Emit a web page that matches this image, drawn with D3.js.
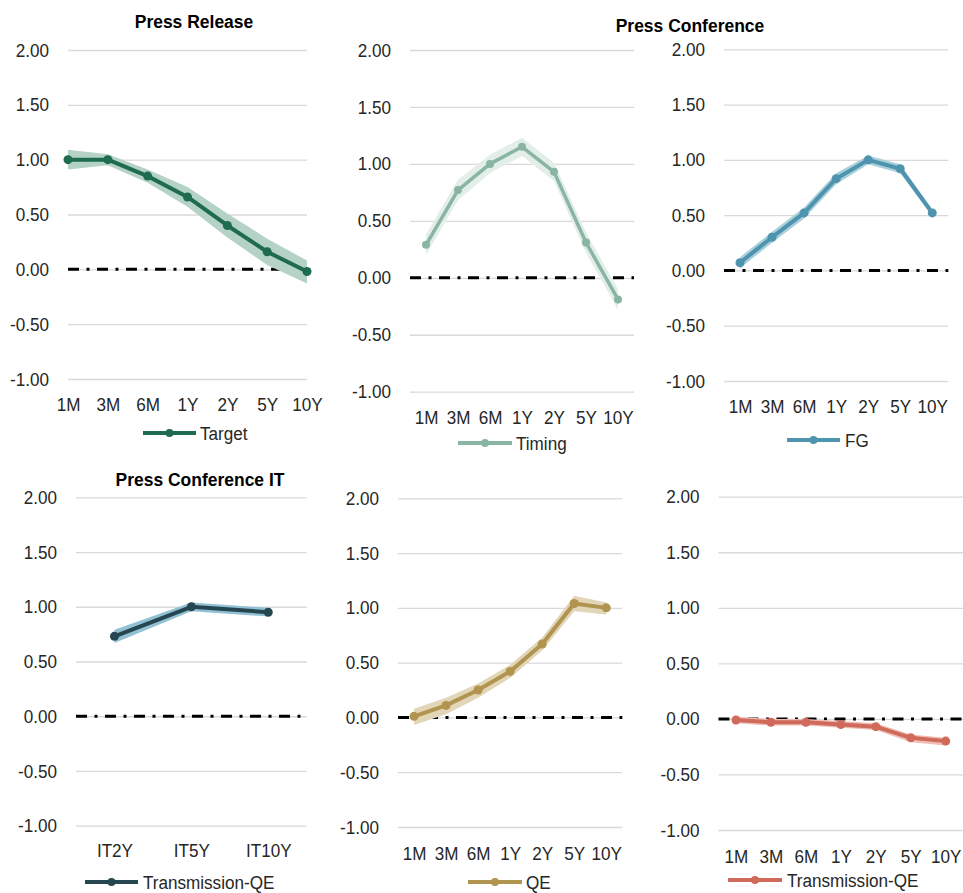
<!DOCTYPE html>
<html>
<head>
<meta charset="utf-8">
<script src="https://cdn.jsdelivr.net/npm/d3@7"></script>
<style>
  html, body { margin: 0; padding: 0; background: #ffffff; }
  svg { display: block; }
  text { font-family: "Liberation Sans Narrow", "Arial Narrow", "Liberation Sans", Arial, sans-serif; }
  /* condensed lettering: squeeze glyphs horizontally around their anchor */
  text.ylab, text.xlab, text.title, text.leg { transform-box: fill-box; }
  text.ylab  { transform-origin: 100% 50%; transform: scaleX(0.9); }
  text.xlab  { transform-origin: 50% 50%;  transform: scaleX(0.9); }
  text.title { transform-origin: 50% 50%;  transform: scaleX(0.92); }
  text.leg   { transform-origin: 0% 50%;   transform: scaleX(0.9); }
</style>
</head>
<body>
<svg id="chart" width="963" height="893"></svg>
<script>
// Yield curve response by tenor
const tenors = ["1M", "3M", "6M", "1Y", "2Y", "5Y", "10Y"];
const itTenors = ["IT2Y", "IT5Y", "IT10Y"];
const yTicks = [2.0, 1.5, 1.0, 0.5, 0.0, -0.5, -1.0];

// Press release: target surprise
const targetMid = [1.00, 1.00, 0.85, 0.66, 0.40, 0.16, -0.02];
const targetHi  = [1.09, 1.05, 0.91, 0.75, 0.51, 0.28, 0.08];
const targetLo  = [0.91, 0.95, 0.79, 0.57, 0.29, 0.04, -0.13];

// Press conference: timing
const timingMid = [0.29, 0.77, 1.00, 1.15, 0.93, 0.31, -0.19];
const timingHi  = [0.38, 0.86, 1.08, 1.23, 1.01, 0.40, -0.10];
const timingLo  = [0.20, 0.68, 0.92, 1.07, 0.85, 0.22, -0.28];

// Press conference: forward guidance
const fgMid = [0.07, 0.30, 0.52, 0.83, 1.00, 0.92, 0.52];
const fgHi  = [0.12, 0.35, 0.57, 0.88, 1.04, 0.96, 0.55];
const fgLo  = [0.02, 0.25, 0.47, 0.78, 0.96, 0.88, 0.49];

// Press conference IT: transmission-QE
const itMid = [0.73, 1.00, 0.95];
const itHi  = [0.79, 1.04, 0.99];
const itLo  = [0.67, 0.96, 0.91];

// QE
const qeMid = [0.01, 0.11, 0.25, 0.42, 0.67, 1.04, 1.00];
const qeHi  = [0.08, 0.18, 0.31, 0.48, 0.73, 1.11, 1.05];
const qeLo  = [-0.07, 0.03, 0.18, 0.36, 0.61, 0.97, 0.94];

// Transmission-QE
const tqeMid = [-0.01, -0.03, -0.03, -0.05, -0.07, -0.17, -0.20];
const tqeHi  = [0.02, 0.00, 0.00, -0.02, -0.04, -0.14, -0.17];
const tqeLo  = [-0.04, -0.06, -0.06, -0.08, -0.10, -0.21, -0.24];

const panels = [
  { cats: tenors, mid: targetMid, hi: targetHi, lo: targetLo, name: "Target",
    line: "#1e6b4f", band: "#b4d2c5", lineW: 4, r: 4.5, pad: 0,
    x0: 68, x1: 307, yTop: 50, yBot: 379, xLab: 19, leg: { y: 433, x0: 143, x1: 196, tx: 200 } },
  { cats: tenors, mid: timingMid, hi: timingHi, lo: timingLo, name: "Timing",
    line: "#8ab5a3", band: "#e3eee9", lineW: 3.5, r: 4, pad: 0.5,
    x0: 410, x1: 634, yTop: 50, yBot: 391.7, xLab: 19, leg: { y: 443, x0: 458, x1: 512, tx: 516 } },
  { cats: tenors, mid: fgMid, hi: fgHi, lo: fgLo, name: "FG",
    line: "#4f94ae", band: "#a9cfdc", lineW: 4, r: 4.5, pad: 0.5,
    x0: 724, x1: 948.3, yTop: 49.3, yBot: 381, xLab: 19, leg: { y: 440, x0: 787, x1: 840, tx: 845 } },
  { cats: itTenors, mid: itMid, hi: itHi, lo: itLo, name: "Transmission-QE",
    line: "#264651", band: "#92c1d3", lineW: 4, r: 4.5, pad: 0.5,
    x0: 76, x1: 306.7, yTop: 497.3, yBot: 825.7, xLab: 18, leg: { y: 882, x0: 85, x1: 138, tx: 143 } },
  { cats: tenors, mid: qeMid, hi: qeHi, lo: qeLo, name: "QE",
    line: "#b1944f", band: "#e2d6b8", lineW: 4, r: 4.5, pad: 0.5,
    x0: 398, x1: 622.3, yTop: 498.3, yBot: 827, xLab: 20, leg: { y: 882, x0: 468, x1: 522, tx: 526 } },
  { cats: tenors, mid: tqeMid, hi: tqeHi, lo: tqeLo, name: "Transmission-QE",
    line: "#d06a5b", band: "#efbdb5", lineW: 4, r: 4.5, pad: 0.5,
    x0: 718.5, x1: 963.2, yTop: 496.7, yBot: 830, xLab: 20, leg: { y: 880, x0: 728, x1: 782, tx: 787 } }
];

const titles = [
  { text: "Press Release", x: 194, y: 21 },
  { text: "Press Conference", x: 690, y: 25 },
  { text: "Press Conference IT", x: 200, y: 479 }
];

const svg = d3.select("#chart");
const fmt = d => d.toFixed(2);

panels.forEach(p => {
  const g = svg.append("g");
  const x = d3.scalePoint().domain(p.cats).range([p.x0, p.x1]).padding(p.pad);
  const y = d3.scaleLinear().domain([-1, 2]).range([p.yBot, p.yTop]);
  const w = p.x1 - p.x0;

  // y axis with gridlines
  const ya = g.append("g")
    .attr("transform", `translate(${p.x0},0)`)
    .call(d3.axisLeft(y).tickValues(yTicks).tickFormat(fmt).tickSize(-w).tickPadding(19));
  ya.select(".domain").remove();
  ya.selectAll(".tick line").attr("stroke", "#d9d9d9").attr("stroke-width", 1.3);
  ya.selectAll(".tick text").attr("class", "ylab").attr("font-size", 19).attr("fill", "#262626");

  // x axis labels
  const xa = g.append("g")
    .attr("transform", `translate(0,${p.yBot})`)
    .call(d3.axisBottom(x).tickSize(0).tickPadding(p.xLab));
  xa.select(".domain").remove();
  xa.selectAll(".tick text").attr("class", "xlab").attr("font-size", 19).attr("fill", "#262626");

  // zero reference line
  g.append("line")
    .attr("x1", p.x0).attr("x2", Math.min(p.x1, 963))
    .attr("y1", y(0)).attr("y2", y(0))
    .attr("stroke", "#000").attr("stroke-width", 3)
    .attr("stroke-dasharray", "11,7.5,3,7.5");

  const rows = p.cats.map((c, i) => ({ c, v: p.mid[i], hi: p.hi[i], lo: p.lo[i] }));

  // confidence band
  g.append("path")
    .datum(rows)
    .attr("fill", p.band)
    .attr("d", d3.area().x(d => x(d.c)).y0(d => y(d.lo)).y1(d => y(d.hi)));

  // estimate line and markers
  g.append("path")
    .datum(rows)
    .attr("fill", "none")
    .attr("stroke", p.line)
    .attr("stroke-width", p.lineW)
    .attr("stroke-linejoin", "round")
    .attr("d", d3.line().x(d => x(d.c)).y(d => y(d.v)));
  g.selectAll("circle.pt").data(rows).join("circle")
    .attr("class", "pt")
    .attr("cx", d => x(d.c)).attr("cy", d => y(d.v)).attr("r", p.r)
    .attr("fill", p.line);

  // legend
  const lg = g.append("g");
  lg.append("line")
    .attr("x1", p.leg.x0).attr("x2", p.leg.x1)
    .attr("y1", p.leg.y).attr("y2", p.leg.y)
    .attr("stroke", p.line).attr("stroke-width", 4);
  lg.append("circle")
    .attr("cx", (p.leg.x0 + p.leg.x1) / 2).attr("cy", p.leg.y).attr("r", 4)
    .attr("fill", p.line);
  lg.append("text")
    .attr("class", "leg")
    .attr("x", p.leg.tx).attr("y", p.leg.y).attr("dy", "0.35em")
    .attr("font-size", 19).attr("fill", "#262626")
    .text(p.name);
});

svg.selectAll("text.title").data(titles).join("text")
  .attr("class", "title")
  .attr("x", d => d.x).attr("y", d => d.y).attr("dy", "0.35em")
  .attr("text-anchor", "middle")
  .attr("font-size", 19).attr("font-weight", "bold").attr("fill", "#000")
  .text(d => d.text);
</script>
</body>
</html>
